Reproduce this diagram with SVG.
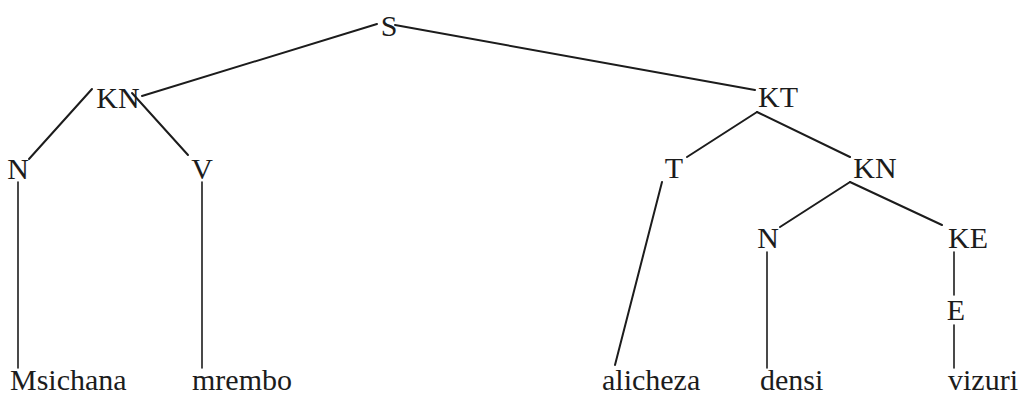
<svg xmlns="http://www.w3.org/2000/svg" width="1022" height="394" viewBox="0 0 1022 394">
<style>
text{font-family:"Liberation Serif","Times New Roman",serif;font-size:30px;fill:#1c1c1c}
.n text{text-anchor:middle}
#edges line{stroke:#1c1c1c;stroke-width:2;stroke-linecap:round}
#edges line.v{stroke-width:1.6}
</style>
<rect width="1022" height="394" fill="#ffffff"/>
<g id="edges">
<line x1="377" y1="24" x2="142" y2="96"/>
<line x1="395" y1="25" x2="755" y2="90"/>
<line x1="92" y1="89" x2="29" y2="159"/>
<line x1="132" y1="93" x2="188" y2="155"/>
<line class="v" x1="18" y1="182" x2="18" y2="368"/>
<line class="v" x1="202" y1="182" x2="202" y2="368"/>
<line x1="757" y1="112" x2="687" y2="157"/>
<line x1="757" y1="112" x2="850" y2="157"/>
<line x1="662" y1="182" x2="615" y2="365"/>
<line x1="850" y1="182" x2="780" y2="227"/>
<line x1="850" y1="182" x2="942" y2="225"/>
<line class="v" x1="767" y1="252" x2="767" y2="368"/>
<line class="v" x1="954" y1="252" x2="954" y2="295"/>
<line class="v" x1="954" y1="325" x2="954" y2="368"/>
</g>
<g class="n" id="node-S"><text x="389" y="36">S</text></g>
<g class="n" id="node-KN1"><text x="118" y="108">KN</text></g>
<g class="n" id="node-KT"><text x="778" y="107">KT</text></g>
<g class="n" id="node-N1"><text x="18" y="179">N</text></g>
<g class="n" id="node-V"><text x="202" y="179">V</text></g>
<g class="n" id="node-T"><text x="674" y="178">T</text></g>
<g class="n" id="node-KN2"><text x="875" y="178">KN</text></g>
<g class="n" id="node-N2"><text x="768" y="248">N</text></g>
<g class="n" id="node-KE"><text x="968" y="248">KE</text></g>
<g class="n" id="node-E"><text x="956" y="320">E</text></g>
<g id="leaf-Msichana"><text x="10" y="390">Msichana</text></g>
<g id="leaf-mrembo"><text x="192" y="390">mrembo</text></g>
<g id="leaf-alicheza"><text x="602" y="390">alicheza</text></g>
<g id="leaf-densi"><text x="760" y="390">densi</text></g>
<g id="leaf-vizuri"><text x="948" y="390">vizuri</text></g>
</svg>
